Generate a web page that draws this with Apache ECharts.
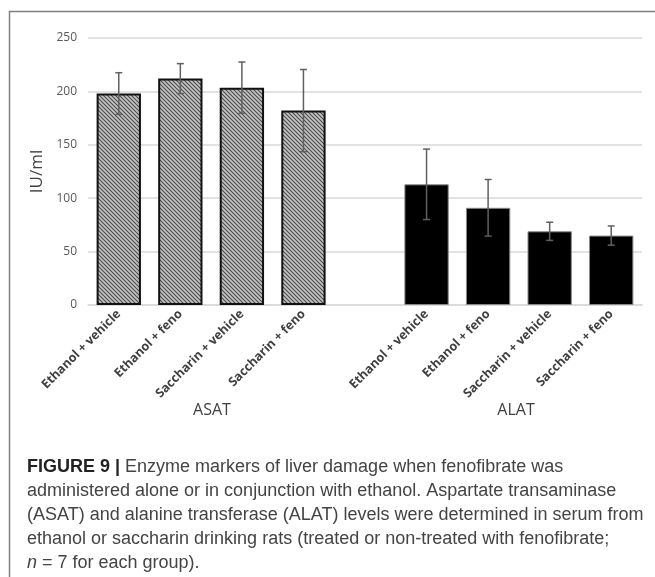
<!DOCTYPE html>
<html>
<head>
<meta charset="utf-8">
<script src="https://cdn.jsdelivr.net/npm/echarts@6/dist/echarts.min.js"></script>
<style>
  html, body { margin: 0; padding: 0; background: #fff; }
  #main { width: 655px; height: 577px; }
</style>
</head>
<body>
<div id="main"></div>
<script>
// groups: ASAT (4 bars), empty gap, ALAT (4 bars)
const groups = ['Ethanol + vehicle', 'Ethanol + feno', 'Saccharin + vehicle', 'Saccharin + feno']
const categories = groups.concat([''], groups)
const asatMean = [198, 212, 203.5, 182]
const asatErr = [19.5, 14, 24, 38.5]
const alatMean = [113, 91, 69, 65]
const alatErr = [33, 26.5, 8.5, 9]
const yTicks = { min: 0, max: 250, interval: 50 }
const captionLines = [
  '{b|FIGURE 9 |} Enzyme markers of liver damage when fenofibrate was',
  'administered alone or in conjunction with ethanol. Aspartate transaminase',
  '(ASAT) and alanine transferase (ALAT) levels were determined in serum from',
  'ethanol or saccharin drinking rats (treated or non-treated with fenofibrate;',
  '{i|n} = 7 for each group).'
]

// hatch pattern for ASAT bars
function makeHatch() {
  const c = document.createElement('canvas')
  c.width = 4
  c.height = 4
  const ctx = c.getContext('2d')
  ctx.fillStyle = '#c4c4c4'
  ctx.fillRect(0, 0, 4, 4)
  ctx.strokeStyle = '#4a4a4a'
  ctx.lineWidth = 1.1
  ctx.beginPath()
  ctx.moveTo(-1, -1); ctx.lineTo(5, 5)
  ctx.moveTo(-1, 3); ctx.lineTo(1, 5)
  ctx.moveTo(3, -1); ctx.lineTo(5, 1)
  ctx.stroke()
  return c
}

const asatData = categories.map((c, i) => (i < 4 ? asatMean[i] : '-'))
const alatData = categories.map((c, i) => (i > 4 ? alatMean[i - 5] : '-'))
const errData = []
asatMean.forEach((m, i) => errData.push([i, m - asatErr[i], m + asatErr[i]]))
alatMean.forEach((m, i) => errData.push([i + 5, m - alatErr[i], m + alatErr[i]]))

const chart = echarts.init(document.getElementById('main'))
const option = {
  animation: false,
  grid: { left: 88, right: 13, top: 38, bottom: 272 },
  xAxis: {
    type: 'category',
    data: categories,
    axisTick: { show: false },
    axisLine: { lineStyle: { color: '#d9d9d9', width: 1.5 } },
    axisLabel: {
      interval: 0,
      rotate: 45,
      margin: 7,
      fontFamily: 'Open Sans',
      fontWeight: 'bold',
      fontSize: 12.5,
      color: '#404040'
    }
  },
  yAxis: {
    type: 'value',
    min: yTicks.min,
    max: yTicks.max,
    interval: yTicks.interval,
    name: 'IU/ml',
    nameLocation: 'middle',
    nameGap: 37,
    nameTextStyle: { fontFamily: 'Open Sans', fontSize: 17, color: '#404040' },
    axisLine: { show: false },
    axisTick: { show: false },
    axisLabel: { fontFamily: 'Open Sans', fontSize: 12, color: '#595959', margin: 11 },
    splitLine: { lineStyle: { color: '#d9d9d9', width: 1.5 } }
  },
  series: [
    {
      name: 'ASAT',
      type: 'bar',
      data: asatData,
      barWidth: '72%',
      barGap: '-100%',
      itemStyle: {
        color: { image: makeHatch(), repeat: 'repeat' },
        borderColor: '#111',
        borderWidth: 2
      }
    },
    {
      name: 'ALAT',
      type: 'bar',
      data: alatData,
      barWidth: '72%',
      barGap: '-100%',
      itemStyle: { color: '#000', borderColor: '#888', borderWidth: 1 }
    },
    {
      name: 'err',
      type: 'custom',
      z: 5,
      data: errData,
      renderItem: (params, api) => {
        const x = api.value(0)
        const lo = api.coord([x, api.value(1)])
        const hi = api.coord([x, api.value(2)])
        const w = 3.5
        const style = { stroke: '#606060', lineWidth: 1.5 }
        return {
          type: 'group',
          children: [
            { type: 'line', shape: { x1: lo[0], y1: lo[1], x2: hi[0], y2: hi[1] }, style },
            { type: 'line', shape: { x1: hi[0] - w, y1: hi[1], x2: hi[0] + w, y2: hi[1] }, style },
            { type: 'line', shape: { x1: lo[0] - w, y1: lo[1], x2: lo[0] + w, y2: lo[1] }, style }
          ]
        }
      }
    }
  ],
  graphic: [
    { type: 'line', shape: { x1: 9, y1: 11.5, x2: 655, y2: 11.5 }, style: { stroke: '#808080', lineWidth: 1.5 } },
    { type: 'line', shape: { x1: 9.5, y1: 11, x2: 9.5, y2: 577 }, style: { stroke: '#808080', lineWidth: 1.5 } },
    { type: 'text', x: 212, y: 410, style: { text: 'ASAT', font: '16px "Open Sans"', fill: '#404040', align: 'center', verticalAlign: 'middle' } },
    { type: 'text', x: 516, y: 410, style: { text: 'ALAT', font: '16px "Open Sans"', fill: '#404040', align: 'center', verticalAlign: 'middle' } }
  ].concat(captionLines.map((t, i) => ({
    type: 'text',
    x: 27,
    y: 467 + i * 24,
    style: {
      text: t,
      font: '18px "Liberation Sans"',
      fill: '#444',
      verticalAlign: 'middle',
      rich: {
        b: { font: 'bold 18px "Liberation Sans"', fill: '#222' },
        i: { font: 'italic 18px "Liberation Sans"', fill: '#444' }
      }
    }
  })))
}
chart.setOption(option)
</script>
</body>
</html>
